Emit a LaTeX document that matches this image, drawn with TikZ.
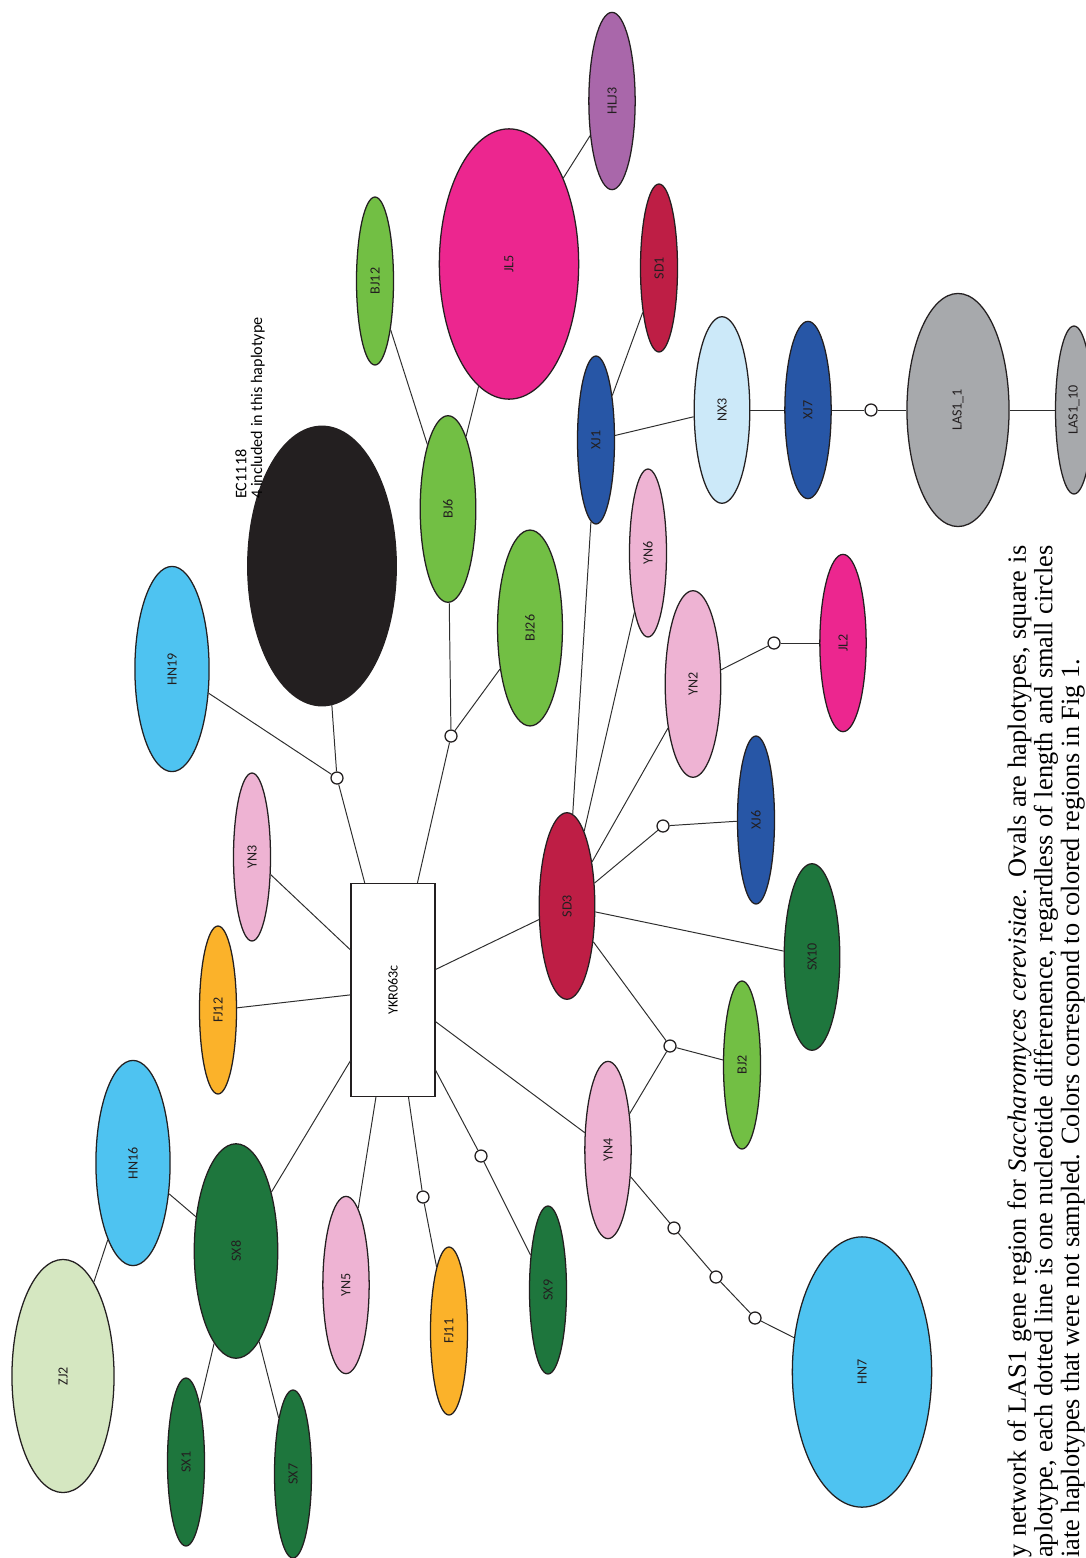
\documentclass[tikz,border=0pt]{standalone}
\usepackage{fontspec}
\usepackage{graphicx}
\usetikzlibrary{shapes.geometric}
\newfontfamily\labelfont{Carlito}
\newfontfamily\captionfont{Liberation Serif}

\definecolor{outline}{HTML}{231F20}
\definecolor{linkgray}{HTML}{2E2E2E}
\definecolor{hnblue}{HTML}{4EC3F1}
\definecolor{ynpink}{HTML}{EEB3D3}
\definecolor{fjorange}{HTML}{FBB22A}
\definecolor{sxgreen}{HTML}{1E763D}
\definecolor{zjgreen}{HTML}{D5E7C1}
\definecolor{bjgreen}{HTML}{72BF44}
\definecolor{sdred}{HTML}{BE1E45}
\definecolor{xjblue}{HTML}{2756A6}
\definecolor{jlmagenta}{HTML}{EC268F}
\definecolor{hljpurple}{HTML}{A967AA}
\definecolor{nxblue}{HTML}{CCE9F9}
\definecolor{lasgray}{HTML}{A7A9AC}

\begin{document}
\begin{tikzpicture}[x=0.025cm,y=-0.025cm,
    hap/.style={ellipse,draw=outline,line width=0.9pt,rotate=90,inner sep=0pt,
      minimum width={(158.7+9.3*#1)*0.025cm},minimum height={(27.7+9.3*#1)*0.025cm},
      font=\labelfont\fontsize{10}{12}\selectfont,text=outline},
    unsampled/.style={circle,draw=outline,fill=white,line width=0.9pt,inner sep=0pt,minimum size=0.3cm},
    edgeline/.style={draw=linkgray,line width=0.7pt}]
  \useasboundingbox (0,0) rectangle (1085,1558);

  \node[draw=outline,line width=0.9pt,rotate=90,minimum width=5.325cm,minimum height=2.1cm,
    font=\labelfont\fontsize{10}{12}\selectfont] (ykr) at (393,990) {YKR063c};

  \node[hap=5,fill=hnblue] (HN19) at (172,669) {HN19};
  \node[hap=13,fill=outline] (EC1118) at (322,566) {};
  \node[hap=1,fill=ynpink] (YN3) at (252,857) {YN3};
  \node[hap=1,fill=fjorange] (FJ12) at (218,1010) {FJ12};
  \node[hap=5,fill=hnblue] (HN16) at (133,1163) {HN16};
  \node[hap=6,fill=sxgreen] (SX8) at (236,1251) {SX8};
  \node[hap=8,fill=zjgreen] (ZJ2) at (63,1376) {ZJ2};
  \node[hap=1,fill=sxgreen] (SX1) at (186,1462) {SX1};
  \node[hap=1,fill=sxgreen] (SX7) at (293,1474) {SX7};
  \node[hap=2,fill=ynpink] (YN5) at (346,1285) {YN5};
  \node[hap=1,fill=fjorange] (FJ11) at (449,1331) {FJ11};
  \node[hap=1,fill=sxgreen] (SX9) at (548,1290) {SX9};
  \node[hap=2,fill=ynpink] (YN4) at (608,1150) {YN4};
  \node[hap=12,fill=hnblue] (HN7) at (862,1372) {HN7};
  \node[hap=1,fill=bjgreen] (BJ2) at (742,1065) {BJ2};
  \node[hap=3,fill=sxgreen] (SX10) at (812,957) {SX10};
  \node[hap=3,fill=sdred] (SD3) at (567,906) {SD3};
  \node[hap=1,fill=xjblue] (XJ6) at (756,820) {XJ6};
  \node[hap=3,fill=ynpink] (YN2) at (693,684) {YN2};
  \node[hap=2,fill=jlmagenta] (JL2) at (843,643) {JL2};
  \node[hap=1,fill=ynpink] (YN6) at (648,553) {YN6};
  \node[hap=4,fill=bjgreen] (BJ26) at (530,628) {BJ26};
  \node[hap=3,fill=bjgreen] (BJ6) at (448,509) {BJ6};
  \node[hap=1,fill=bjgreen] (BJ12) at (375,281) {BJ12};
  \node[hap=12,fill=jlmagenta] (JL5) at (509,264) {JL5};
  \node[hap=2,fill=hljpurple] (HLJ3) at (612,101) {HLJ3};
  \node[hap=1,fill=sdred] (SD1) at (659,268) {SD1};
  \node[hap=1,fill=xjblue] (XJ1) at (596,440) {XJ1};
  \node[hap=3,fill=nxblue] (NX3) at (722,410) {NX3};
  \node[hap=2,fill=xjblue] (XJ7) at (808,410) {XJ7};
  \node[hap=8,fill=lasgray] (LASa) at (958,410) {LAS1\_1};
  \node[hap=1,fill=lasgray] (LASb) at (1074,410) {LAS1\_10};

  \node[unsampled] (c1) at (337,778) {};
  \node[unsampled] (c2) at (451,736) {};
  \node[unsampled] (c3) at (423,1197) {};
  \node[unsampled] (c4) at (481,1156) {};
  \node[unsampled] (c5) at (670,1046) {};
  \node[unsampled] (c6) at (663,826) {};
  \node[unsampled] (c7) at (774,643) {};
  \node[unsampled] (c8) at (871,410) {};
  \node[unsampled] (c9) at (674,1228) {};
  \node[unsampled] (c10) at (716,1277) {};
  \node[unsampled] (c11) at (755,1318) {};

  \foreach \a/\b in {ykr/c1,c1/HN19,c1/EC1118,ykr/c2,c2/BJ6,c2/BJ26,ykr/YN3,ykr/FJ12,
      ykr/SX8,ykr/YN5,ykr/c3,c3/FJ11,ykr/c4,c4/SX9,ykr/SD3,ykr/YN4,
      SX8/HN16,HN16/ZJ2,SX8/SX1,SX8/SX7,YN4/c5,c5/SD3,c5/BJ2,
      YN4/c9,c9/c10,c10/c11,c11/HN7,SD3/SX10,SD3/c6,c6/XJ6,SD3/YN2,YN2/c7,c7/JL2,
      SD3/YN6,SD3/XJ1,XJ1/SD1,XJ1/NX3,NX3/XJ7,XJ7/c8,c8/LASa,LASa/LASb,
      BJ6/BJ12,BJ6/JL5,JL5/HLJ3}
  {
    \draw[edgeline] (\a) -- (\b);
  }

  \node[rotate=90,anchor=north west,inner sep=0pt,align=left,
    font=\labelfont\fontsize{11.5}{11.2}\selectfont] (ecnote) at (235,499)
    {EC1118\\4 included in this haplotype};

  \node[rotate=90,anchor=north west,inner sep=0pt,align=left,
    font=\captionfont\fontsize{18.75}{18.9}\selectfont] (caption) at (1007,1558)
    {\makebox[25.3cm][s]{y network of LAS1 gene region for \textit{Saccharomyces cerevisiae}. Ovals are haplotypes, square is}\\
     \makebox[25.3cm][s]{aplotype, each dotted line is one nucleotide differenence, regardless of length and small circles}\\
     iate haplotypes that were not sampled. Colors correspond to colored regions in Fig 1.};
\end{tikzpicture}
\end{document}
